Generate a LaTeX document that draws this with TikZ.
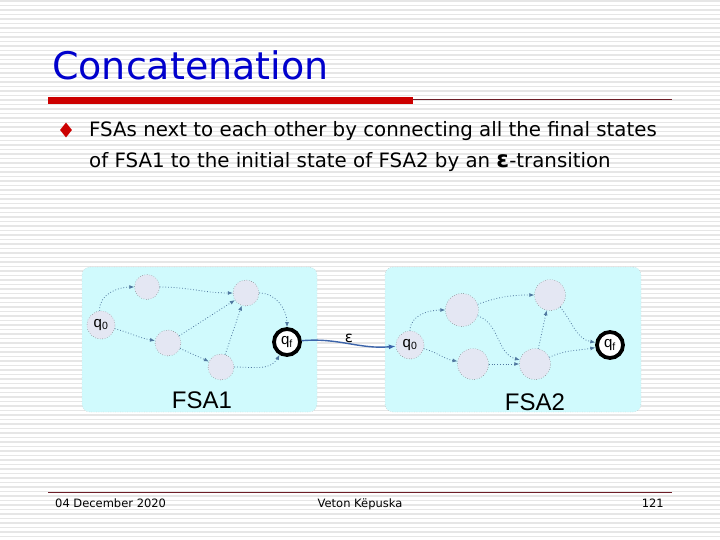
\documentclass[tikz,border=0pt]{standalone}
\usepackage{fontspec}
\setmainfont{DejaVu Sans}
\newfontfamily\arialfont{Liberation Sans}
\usetikzlibrary{
    shapes.geometric,
    arrows.meta,
    positioning,
    calc
}
\definecolor{titleblue}{RGB}{0,0,204}
\definecolor{barred}{RGB}{204,0,0}
\definecolor{rulered}{RGB}{110,30,40}
\definecolor{stripe}{RGB}{230,230,230}
\definecolor{panelcyan}{RGB}{208,250,253}
\definecolor{statefill}{RGB}{228,231,243}
\definecolor{edgeblue}{RGB}{80,120,160}
\definecolor{epsblue}{RGB}{60,100,170}
\tikzset{
    % Panels
    panel/.style={
        rectangle,
        draw=gray!60,
        dotted,
        fill=panelcyan,
        rounded corners=8pt,
        inner sep=0pt
    },
    % States
    state/.style={
        circle,
        draw=black!75,
        dotted,
        fill=statefill,
        minimum size=26pt,
        inner sep=0pt,
        font=\arialfont\fontsize{15}{15}\selectfont
    },
    final/.style={
        state,
        draw=black,
        solid,
        line width=3.8pt,
        fill=white,
        minimum size=26pt
    },
    % Arrows
    trans/.style={
        -{Latex[length=5pt,width=4pt]},
        draw=edgeblue,
        dotted,
        line width=0.8pt
    },
    epsarrow/.style={
        -{Latex[length=7pt,width=5pt]},
        draw=epsblue,
        line width=1.4pt
    },
    % Labels
    fsalabel/.style={
        font=\arialfont\fontsize{24}{24}\selectfont,
        inner sep=0pt
    },
    bodytext/.style={
        anchor=base west,
        inner sep=0pt,
        font=\fontsize{19.8}{19.8}\selectfont
    },
    footer/.style={
        inner sep=0pt,
        font=\fontsize{11.5}{11.5}\selectfont
    }
}

\begin{document}
\begin{tikzpicture}[x=1pt, y=-1pt]

    % Background
    \useasboundingbox (0,0) rectangle (720,540);
    \fill[white] (0,0) rectangle (720,540);
    \foreach \y in {1,5.5,...,540}
        \draw[stripe, line width=1.2pt] (0,\y) -- (720,\y);

    % Title
    \node[anchor=base west, inner sep=0pt, text=titleblue, font=\fontsize{38}{38}\selectfont] (title) at (52,80) {Concatenation};
    \fill[barred] (48,97) rectangle (413,104);
    \draw[rulered, line width=1pt] (413,100) -- (672,100);

    % Bullet
    \node[diamond, fill=barred, minimum width=12pt, minimum height=15pt, inner sep=0pt] (bullet) at (66,130) {};
    \node[bodytext] (lineone) at (89,137) {FSAs next to each other by connecting all the final states};
    \node[bodytext] (linetwo) at (89,168) {of FSA1 to the initial state of FSA2 by an {\bfseries\fontsize{23}{23}\selectfont ε}-transition};

    % Panels
    \node[panel, minimum width=235pt, minimum height=145pt] (panelone) at (199.5,339.5) {};
    \node[panel, minimum width=256pt, minimum height=145pt] (paneltwo) at (513,339.5) {};

    % FSA1
    \node[state, minimum size=28pt] (q0a) at (101,325) {q\textsubscript{0}};
    \node[state, minimum size=25pt] (s1a) at (147,287) {};
    \node[state] (s2a) at (246,293) {};
    \node[state] (s3a) at (168,343) {};
    \node[state] (s4a) at (221,367) {};
    \node[final] (qfa) at (287,342) {q\textsubscript{f}};
    \node[fsalabel] (fsaone) at (202,400) {FSA1};

    % FSA2
    \node[state, minimum size=28pt] (q0b) at (410,345) {q\textsubscript{0}};
    \node[state, minimum size=33pt] (s1b) at (462,310) {};
    \node[state, minimum size=31pt] (s2b) at (550,295) {};
    \node[state, minimum size=31pt] (s3b) at (473,364) {};
    \node[state, minimum size=31pt] (s4b) at (535,364) {};
    \node[final] (qfb) at (610,345) {q\textsubscript{f}};
    \node[fsalabel] (fsatwo) at (535,402) {FSA2};

    % Transitions FSA1
    \draw[trans] (q0a) to[out=95,in=180] (s1a);
    \draw[trans] (s1a) to[out=0,in=180] (s2a);
    \draw[trans] (q0a) to[out=-15,in=170] (s3a);
    \draw[trans] (s3a) -- (s2a);
    \draw[trans] (s3a) -- (s4a);
    \draw[trans] (s4a) -- (s2a);
    \draw[trans] (s2a) to[out=0,in=90] (qfa);
    \draw[trans] (s4a) to[out=0,in=-120] (qfa);

    % Transitions FSA2
    \draw[trans] (q0b) to[out=90,in=180] (s1b);
    \draw[trans] (q0b) to[out=-15,in=170] (s3b);
    \draw[trans] (s1b) to[out=20,in=180] (s2b);
    \draw[trans] (s1b) to[out=-20,in=165] (s4b);
    \draw[trans] (s3b) -- (s4b);
    \draw[trans] (s4b) -- (s2b);
    \draw[trans] (s4b) to[out=25,in=190] (qfb);
    \draw[trans] (s2b) to[out=-50,in=170] (qfb);

    % Epsilon transition
    \draw[epsarrow] (qfa) to[out=5,in=185] node[pos=0.5, above=-3pt, font=\fontsize{15}{15}\selectfont] (eps) {ε} (q0b);

    % Footer
    \draw[rulered, line width=1pt] (48,492) -- (672,492);
    \node[footer, anchor=base west] (date) at (55,507) {04 December 2020};
    \node[footer, anchor=base] (author) at (360,507) {Veton Këpuska};
    \node[footer, anchor=base east] (page) at (664,507) {121};

\end{tikzpicture}
\end{document}
